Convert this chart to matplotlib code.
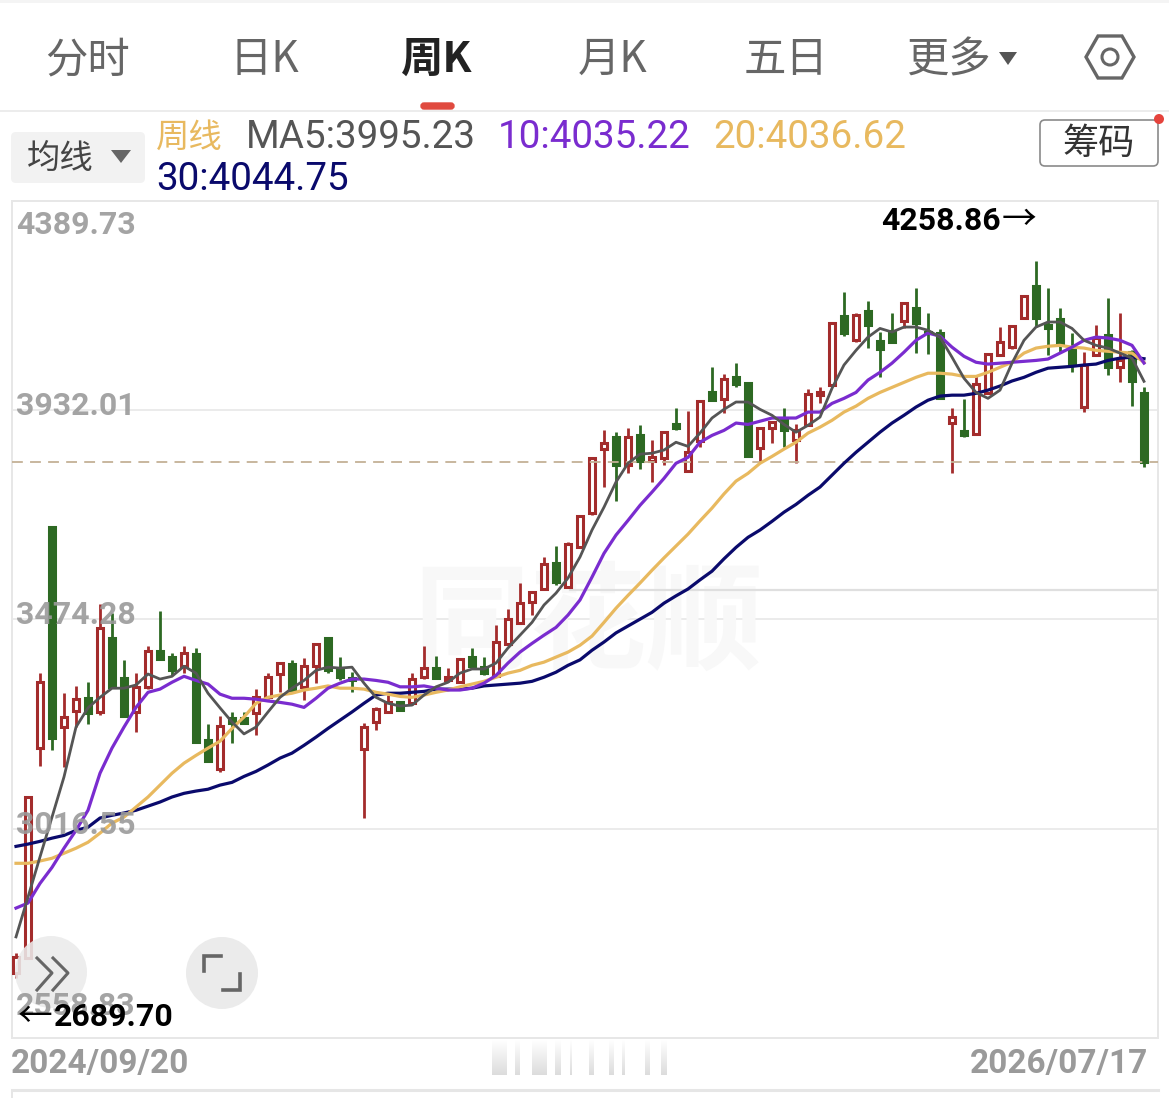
import numpy as np
import matplotlib
matplotlib.use("Agg")
import matplotlib.pyplot as plt
from matplotlib.colors import LinearSegmentedColormap
from matplotlib.patches import Circle, FancyBboxPatch, Polygon, Rectangle

plt.rcParams['font.family'] = ['Roboto', 'Noto Sans CJK SC', 'DejaVu Sans']
CJK = ['Noto Sans CJK SC', 'DejaVu Sans']

# weekly index candles, 2024/09/20 to 2026/07/17
opens = [2701,2734,3193,3677,3239,3274,3302,3272,3434,3346,
         3272,3327,3405,3392,3372,3398,3210,3147,3258,3258,
         3270,3304,3355,3376,3327,3372,3434,3366,3346,3191,
         3250,3272,3293,3291,3348,3368,3341,3337,3392,3370,
         3350,3420,3466,3512,3541,3597,3545,3632,3707,3847,
         3873,3812,3877,3821,3827,3901,3799,3864,3971,3956,
         4004,3991,3849,3893,3912,3866,3899,3965,3987,4138,
         4085,4149,4083,4105,4127,4155,4103,4101,3904,3886,
         3880,3969,4052,4070,4133,4203,4118,4131,4063,3939,
         4052,4096,4026,4059,3969]
closes = [2736,3086,3337,3215,3261,3300,3270,3456,3327,3263,
          3327,3405,3388,3363,3401,3206,3164,3241,3247,3247,
          3304,3348,3379,3320,3372,3420,3363,3348,3341,3239,
          3278,3293,3276,3344,3368,3346,3348,3388,3372,3357,
          3425,3475,3510,3534,3595,3556,3639,3700,3827,3860,
          3812,3873,3821,3829,3884,3893,3840,3952,3954,4000,
          3989,3831,3893,3906,3888,3888,3967,3971,4122,4101,
          4140,4118,4066,4081,4166,4122,4101,3958,3917,3877,
          3989,4055,4081,4116,4181,4133,4111,4079,4031,4031,
          4090,4026,4041,3996,3818]
highs = [2745,3088,3357,3677,3313,3329,3337,3508,3488,3386,
         3357,3416,3493,3401,3416,3412,3245,3263,3272,3272,
         3322,3357,3381,3386,3390,3422,3436,3392,3359,3247,
         3282,3309,3293,3357,3416,3394,3368,3390,3412,3392,
         3462,3497,3554,3534,3611,3635,3643,3702,3829,3888,
         3884,3893,3899,3866,3886,3936,3930,3952,4026,4011,
         4035,3991,3895,3908,3936,3901,3978,3982,4122,4190,
         4144,4171,4103,4144,4168,4199,4144,4109,3936,3956,
         4009,4057,4114,4118,4184,4258.86,4199,4155,4101,4059,
         4118,4177,4144,4063,3982]
lows = [2689.70,2734,3154,3189,3152,3239,3246,3265,3327,3263,
        3228,3322,3386,3352,3357,3206,3164,3140,3204,3247,
        3221,3300,3315,3315,3298,3335,3357,3341,3315,3040,
        3232,3272,3276,3287,3344,3346,3337,3337,3368,3352,
        3350,3420,3464,3484,3541,3549,3545,3632,3702,3764,
        3733,3794,3803,3775,3812,3888,3799,3851,3954,3926,
        3982,3831,3816,3860,3851,3816,3899,3947,3987,4094,
        4081,4068,4004,4081,4111,4057,4055,3958,3794,3873,
        3877,3967,4052,4066,4131,4114,4052,4057,4015,3928,
        4052,4009,3993,3941,3807]

ma5 = [2780,2867,2955,3042,3130,3239,3281,3304,3324,3324,
       3331,3355,3344,3350,3372,3357,3313,3281,3250,3224,
       3239,3272,3304,3324,3341,3363,3370,3368,3370,3335,
       3304,3291,3285,3287,3309,3327,3337,3357,3366,3366,
       3379,3412,3440,3468,3506,3532,3565,3611,3670,3720,
       3775,3816,3836,3838,3845,3862,3853,3882,3915,3934,
       3950,3950,3934,3921,3901,3884,3899,3917,3980,4031,
       4063,4092,4111,4103,4114,4114,4107,4092,4048,4002,
       3971,3958,3976,4035,4085,4114,4125,4125,4111,4085,
       4074,4068,4057,4046,3995.23]
ma10 = [2843,2854,2897,2932,2974,3013,3057,3138,3193,3239,
        3282,3315,3322,3337,3350,3341,3333,3311,3302,3302,
        3300,3296,3293,3289,3282,3302,3324,3335,3344,3344,
        3341,3337,3327,3327,3329,3324,3320,3320,3324,3335,
        3352,3379,3403,3422,3440,3457,3484,3517,3567,3619,
        3659,3691,3724,3753,3783,3816,3829,3862,3877,3888,
        3904,3901,3908,3915,3915,3915,3928,3928,3947,3958,
        3971,3998,4015,4035,4059,4085,4101,4094,4070,4050,
        4037,4033,4035,4037,4039,4041,4044,4057,4070,4085,
        4092,4090,4085,4074,4035.22]
ma20 = [2941,2941,2946,2952,2963,2974,2987,3007,3029,3042,
        3064,3086,3112,3138,3160,3177,3193,3208,3236,3261,
        3291,3304,3309,3313,3320,3324,3329,3324,3324,3322,
        3315,3311,3306,3304,3309,3315,3320,3327,3333,3339,
        3348,3357,3363,3374,3381,3392,3403,3418,3438,3468,
        3499,3527,3554,3582,3609,3635,3661,3690,3718,3749,
        3777,3794,3816,3831,3847,3862,3882,3895,3910,3928,
        3941,3958,3971,3982,3993,4004,4013,4013,4011,4006,
        4006,4015,4026,4037,4057,4068,4072,4074,4070,4068,
        4063,4061,4059,4057,4036.62]
ma30 = [2978,2983,2989,2996,3002,3013,3020,3040,3046,3051,
        3057,3066,3075,3086,3094,3099,3103,3112,3118,3131,
        3142,3156,3171,3182,3199,3217,3236,3254,3272,3291,
        3309,3313,3313,3315,3317,3322,3322,3322,3324,3329,
        3331,3333,3335,3339,3348,3359,3374,3386,3407,3425,
        3445,3460,3475,3490,3510,3526,3541,3561,3580,3607,
        3632,3654,3670,3689,3709,3726,3746,3764,3790,3816,
        3840,3862,3884,3904,3921,3939,3954,3963,3965,3965,
        3969,3976,3985,3996,4004,4015,4024,4026,4028,4031,
        4033,4041,4046,4048,4044.75]

price_ticks = [4389.73, 3932.01, 3474.28, 3016.55, 2558.83]
tick_labels = ["4389.73", "3932.01", "3474.28", "3016.55", "2558.83"]
date_labels = ["2024/09/20", "2026/07/17"]
tabs = ["分时", "日K", "周K", "月K", "五日", "更多"]

RED = "#a32c2c"
GREEN = "#2d6923"
GREY = "#555555"
PURPLE = "#7a2ccf"
GOLD = "#e8b95f"
NAVY = "#0a0a6c"
LABEL = "#9a9a9a"
EDGE = "#e7e7e7"

W, H = 1169, 1098
fig = plt.figure(figsize=(W / 100, H / 100), dpi=100, facecolor="white")

# chart area
ax = fig.add_axes([12 / W, 1 - 1038 / H, (1158 - 12) / W, (1038 - 201) / H])
ax.set_xlim(-4 / 12, (1158 - 16) / 12)
ax.set_ylim(price_ticks[-1], price_ticks[0])
ax.set_xticks([])
ax.set_yticks(price_ticks[1:-1])
ax.tick_params(length=0, labelleft=False)
ax.grid(axis="y", color=EDGE, lw=1.2, zorder=0)
ax.set_axisbelow(True)
for s in ax.spines.values():
    s.set_color(EDGE)
    s.set_linewidth(1.4)

# pixel overlay for the app chrome around the chart
ui = fig.add_axes([0, 0, 1, 1], zorder=5)
ui.set_xlim(0, W)
ui.set_ylim(H, 0)
ui.axis("off")
ui.patch.set_alpha(0)

ax.text(588, 626, "同花顺", transform=ui.transData, family=CJK, fontsize=84, weight="bold",
        color="#f8f8f8", ha="center", va="center", zorder=1)
ax.plot([570, 1158], [590, 590], transform=ui.transData, color="#dfdfdf", lw=1.6, zorder=1)

# candles: red ones are hollow, green ones filled
idx = np.arange(len(opens))
opens = np.array(opens, float)
closes = np.array(closes, float)
highs = np.array(highs, float)
lows = np.array(lows, float)
up = closes >= opens
colors = [RED if u else GREEN for u in up]
ax.vlines(idx, lows, highs, colors=colors, lw=2.0, zorder=2)
bodies = np.maximum(np.abs(closes - opens), 1.0)
ax.bar(idx, bodies, bottom=np.minimum(opens, closes), width=0.52,
       color=["white" if u else GREEN for u in up], edgecolor=colors, lw=2.2, zorder=3)

ax.axhline(closes[-1], color="#c4b196", lw=1.3, dashes=(6, 4), zorder=3)

for vals, c, lw in [(ma30, NAVY, 2.3), (ma20, GOLD, 2.3), (ma10, PURPLE, 2.3), (ma5, GREY, 2.0)]:
    ax.plot(idx, vals, color=c, lw=lw, zorder=4, solid_joinstyle="round")

# top bar
ui.add_patch(Rectangle((0, 0), W, 3, color="#f4f4f4", lw=0))
ui.plot([0, W], [111, 111], color="#ececec", lw=1.4)
tab_x = [88, 264, 437, 613, 786, 948]
for t, x in zip(tabs, tab_x):
    on = t == "周K"
    ui.text(x, 60, t, family=CJK, fontsize=30.5, ha="center", va="center",
            color="#222222" if on else "#666666", weight="bold" if on else "normal")
ui.add_patch(FancyBboxPatch((421, 103), 33, 6, boxstyle="round,pad=0,rounding_size=3",
                            mutation_aspect=1, fc="#e04a3f", ec="#e04a3f", lw=1))
ui.add_patch(Polygon([(999, 52), (1017, 52), (1008, 65)], color="#555555", lw=0))
hex_pts = [(1086, 57), (1098, 36), (1122, 36), (1134, 57), (1122, 78), (1098, 78)]
ui.add_patch(Polygon(hex_pts, fill=False, ec="#666666", lw=2.4))
ui.add_patch(Circle((1110, 57), 8, fill=False, ec="#666666", lw=2.2))

# moving average legend
ui.add_patch(FancyBboxPatch((11, 132), 134, 51, boxstyle="round,pad=0,rounding_size=5",
                            mutation_aspect=1, fc="#f2f2f2", ec="none"))
ui.text(60, 158, "均线", family=CJK, fontsize=24, ha="center", va="center", color="#444444")
ui.add_patch(Polygon([(111, 150), (131, 150), (121, 163)], color="#666666", lw=0))
ui.text(156, 137, "周线", family=CJK, fontsize=24, ha="left", va="center", color=GOLD)
for s, x, y, c in [("MA5:3995.23", 246, 138, "#555555"), ("10:4035.22", 498, 138, PURPLE),
                   ("20:4036.62", 713, 138, GOLD), ("30:4044.75", 156, 180, NAVY)]:
    ui.text(x, y, s, fontsize=27.8, ha="left", va="center", color=c)

ui.add_patch(FancyBboxPatch((1040, 120), 118, 46, boxstyle="round,pad=0,rounding_size=5",
                            mutation_aspect=1, fc="white", ec="#8a8a8a", lw=1.2))
ui.text(1099, 144, "筹码", family=CJK, fontsize=26, ha="center", va="center", color="#333333")
ui.add_patch(Circle((1159, 119), 5, color="#e5433c", lw=0))

# price and date labels
for s, y in zip(tick_labels, [225, 406, 615, 825, 1006]):
    ui.text(16, y, s, fontsize=23, weight="bold", color=LABEL, alpha=0.9, ha="left", va="center")
ui.text(11, 1064, date_labels[0], fontsize=24, weight="bold", color=LABEL, ha="left", va="center")
ui.text(1148, 1064, date_labels[1], fontsize=24, weight="bold", color=LABEL, ha="right", va="center")

# round buttons on the lower left
ui.add_patch(Circle((51, 972), 36, color="#ebebeb", alpha=0.88, lw=0))
ui.add_patch(Circle((222, 973), 36, color="#ebebeb", lw=0))
for dx in (0, 16):
    ui.plot(np.array([37, 52, 37]) + dx, [958, 973, 990], color="#666666", lw=2.2)
ui.plot([204, 204, 221], [971, 956, 956], color="#666666", lw=2.6, solid_joinstyle="miter")
ui.plot([223, 240, 240], [990, 990, 974], color="#666666", lw=2.6, solid_joinstyle="miter")

# extreme value callouts, thin arrow beside the bold number
ui.text(881, 221, "4258.86", fontsize=23, weight="bold", color="black", ha="left", va="center")
ui.text(1019, 221, "→", family=CJK, fontsize=25, color="black", ha="center", va="center")
ui.text(35, 1018, "←", family=CJK, fontsize=25, color="black", ha="center", va="center")
ui.text(54, 1017, "2689.70", fontsize=23, weight="bold", color="black", ha="left", va="center")

# fading bars under the chart, then the lower panel's edge
fade = LinearSegmentedColormap.from_list("fade", ["#ffffff", "#dcdcdc"])
grad = np.linspace(0, 1, 40).reshape(-1, 1)
for x0, x1 in [(492, 507), (515, 520), (532, 547), (555, 561), (570, 572),
               (589, 594), (609, 614), (622, 625), (645, 650), (661, 667)]:
    ui.imshow(grad, extent=(x0, x1, 1075, 1040), cmap=fade, aspect="auto", zorder=1)
ui.set_xlim(0, W)
ui.set_ylim(H, 0)
ui.plot([12, W - 11], [1090, 1090], color="#e6e6e6", lw=2.2)
ui.plot([12, 12], [1090, H], color="#e6e6e6", lw=1.4)

fig.savefig("out.png", dpi=100)
